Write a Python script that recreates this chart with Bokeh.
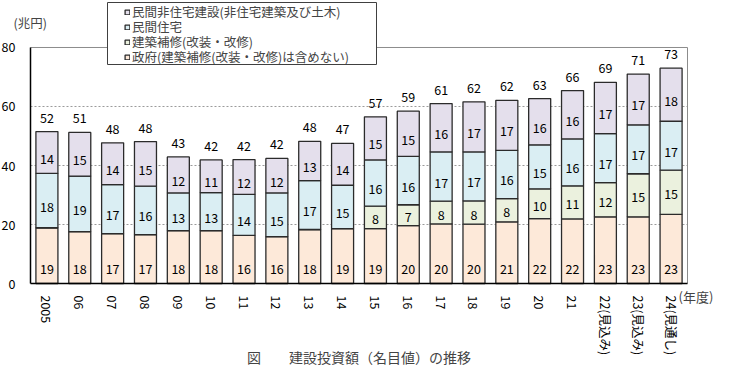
from bokeh.plotting import figure
from bokeh.models import (Range1d, ColumnDataSource, Label, LabelSet,
                          Legend, LegendItem, FixedTicker)
from bokeh.embed import file_html
from bokeh.resources import INLINE
from bokeh.core.properties import value

# ---- data (兆円) ----
years = ["2005", "06", "07", "08", "09", "10", "11", "12", "13", "14", "15", "16",
         "17", "18", "19", "20", "21", "22(見込み)", "23(見込み)", "24(見通し)"]
gov = [18.9, 17.6, 16.9, 16.6, 17.9, 17.9, 16.3, 15.9, 18.3, 18.6,
       18.6, 19.6, 20.2, 20.1, 20.9, 22.0, 21.9, 22.6, 22.6, 23.4]
renov = [0, 0, 0, 0, 0, 0, 0, 0, 0, 0,
         7.6, 7.1, 7.7, 7.9, 7.9, 10.1, 11.2, 11.6, 14.6, 15.0]
housing = [18.4, 18.8, 16.6, 16.4, 12.8, 12.9, 13.9, 14.8, 16.6, 14.7,
           15.7, 16.4, 16.7, 16.6, 16.3, 14.9, 15.9, 16.6, 16.6, 16.6]
nonres = [14.2, 14.8, 14.2, 15.1, 12.2, 11.1, 11.8, 11.7, 13.3, 14.2,
          14.6, 15.3, 16.4, 17.0, 17.0, 15.7, 16.4, 17.4, 17.2, 18.0]
totals = [52, 51, 48, 48, 43, 42, 42, 42, 48, 47, 57, 59, 61, 62, 62, 63, 66, 69, 71, 73]
y_ticks = [0, 20, 40, 60, 80]

series_keys = ["gov", "renov", "housing", "nonres"]
series_names = ["政府(建築補修(改装・改修)は含めない)", "建築補修(改装・改修)",
                "民間住宅", "民間非住宅建設(非住宅建築及び土木)"]
colors = ["#FDE9D9", "#EBF1DE", "#DAEEF3", "#E4DFEC"]

FONT = "Noto Sans CJK JP"
N = len(years)
YMAX = 80

xs = [i + 0.5 for i in range(N)]
src = ColumnDataSource(dict(x=xs, gov=gov, renov=renov, housing=housing, nonres=nonres))

# the frame spans the whole canvas so that texts outside the bar area are not clipped
W, H = 724, 368
XR = (-0.913, N + 1.126)
YR = (-28.81, 95.93)
p = figure(x_range=Range1d(*XR), y_range=Range1d(*YR),
           width=W, height=H, output_backend="svg", toolbar_location=None,
           min_border=0, min_border_left=0, min_border_right=0,
           min_border_top=0, min_border_bottom=0)
p.background_fill_color = "white"
p.border_fill_color = "white"
p.outline_line_color = None


def sx(px):  # screen pixel (canvas) -> x data
    return XR[0] + px / W * (XR[1] - XR[0])


def sy(py):  # screen pixel (canvas, from top) -> y data
    return YR[1] - py / H * (YR[1] - YR[0])


# grid lines and the grey top/right border of the plot area
grid_y = [t for t in y_ticks if 0 < t < YMAX]
p.segment(x0=[0] * len(grid_y), x1=[N] * len(grid_y), y0=grid_y, y1=grid_y,
          line_color="#9a9a9a", line_dash="2 2", line_width=1)
p.segment(x0=[0, N], x1=[N, N], y0=[YMAX, 0], y1=[YMAX, YMAX],
          line_color="#8c8c8c", line_width=1)

renderers = p.vbar_stack(series_keys, x="x", width=0.67, source=src, fill_color=colors,
                         line_color="#2b2b2b", line_width=1.3)

# ---- axes (drawn at fixed locations) ----
p.xaxis.ticker = FixedTicker(ticks=xs)
p.xaxis.major_label_overrides = {x: yr for x, yr in zip(xs, years)}
p.yaxis.ticker = FixedTicker(ticks=y_ticks)
p.xaxis.fixed_location = 0
p.yaxis.fixed_location = 0
p.xaxis.bounds = (0, N)
p.yaxis.bounds = (0, YMAX)
for ax in (p.xaxis[0], p.yaxis[0]):
    ax.axis_line_color = "black"
    ax.axis_line_width = 1.5
    ax.major_tick_line_color = None
    ax.minor_tick_line_color = None
    ax.major_label_text_font = FONT
    ax.major_label_text_font_size = "12.5px"
    ax.major_label_text_color = "black"
p.yaxis.major_label_standoff = 9
p.xaxis.major_label_standoff = 6
p.xaxis.major_label_orientation = "vertical"
p.xgrid.visible = False
p.ygrid.visible = False

# ---- segment labels ----
lab_x, lab_y, lab_t, lab_off = [], [], [], []
for i in range(N):
    lab_x.append(xs[i]); lab_y.append(5.0); lab_t.append(str(round(gov[i]))); lab_off.append(0)
    base = gov[i]
    if renov[i] > 0:
        lab_x.append(xs[i]); lab_y.append(base + renov[i] / 2); lab_t.append(str(round(renov[i]))); lab_off.append(-2)
    base += renov[i]
    lab_x.append(xs[i]); lab_y.append(base + housing[i] / 2); lab_t.append(str(round(housing[i]))); lab_off.append(-6)
    base += housing[i]
    lab_x.append(xs[i]); lab_y.append(base + nonres[i] / 2); lab_t.append(str(round(nonres[i]))); lab_off.append(-6)

seg_src = ColumnDataSource(dict(x=lab_x, y=lab_y, t=lab_t, off=lab_off))
p.add_layout(LabelSet(x="x", y="y", text="t", y_offset="off", source=seg_src,
                      text_align="center", text_baseline="middle",
                      text_font=value(FONT), text_font_size=value("12.5px"),
                      text_color="black"))

top_y = [gov[i] + renov[i] + housing[i] + nonres[i] for i in range(N)]
tot_src = ColumnDataSource(dict(x=xs, y=top_y, t=[str(v) for v in totals]))
p.add_layout(LabelSet(x="x", y="y", text="t", y_offset=14, source=tot_src,
                      text_align="center", text_baseline="middle",
                      text_font=value(FONT), text_font_size=value("12.5px"),
                      text_color="black"))

# ---- legend: outer box + one row per series ----
p.quad(left=sx(107), right=sx(376), top=sy(2), bottom=sy(64),
       fill_color="white", line_color="#404040", line_width=1)
row_centers = [12, 27, 42, 57]
for k, rc in zip((3, 2, 1, 0), row_centers):
    leg = Legend(items=[LegendItem(label=series_names[k], renderers=[renderers[k]])],
                 location=(124, H - rc - 9), orientation="vertical",
                 label_text_font=FONT, label_text_font_size="12.5px",
                 label_height=14, glyph_width=6, glyph_height=6,
                 label_standoff=2, spacing=0, padding=0, margin=0,
                 border_line_color=None, background_fill_alpha=0.0)
    p.add_layout(leg)

# ---- texts ----
p.add_layout(Label(x=0, y=YMAX, x_offset=-17, y_offset=25, text="(兆円)",
                   text_font=FONT, text_font_size="12.5px", text_baseline="middle",
                   text_align="left"))
p.add_layout(Label(x=N, y=0, x_offset=-9, y_offset=-13, text="(年度)",
                   text_font=FONT, text_font_size="13px", text_baseline="middle",
                   text_align="left"))
p.add_layout(Label(x=N / 2, y=0, y_offset=-73, text="図　　建設投資額（名目値）の推移",
                   text_font=FONT, text_font_size="14px", text_baseline="middle",
                   text_align="center"))

open("out.html", "w").write(file_html(p, INLINE))
